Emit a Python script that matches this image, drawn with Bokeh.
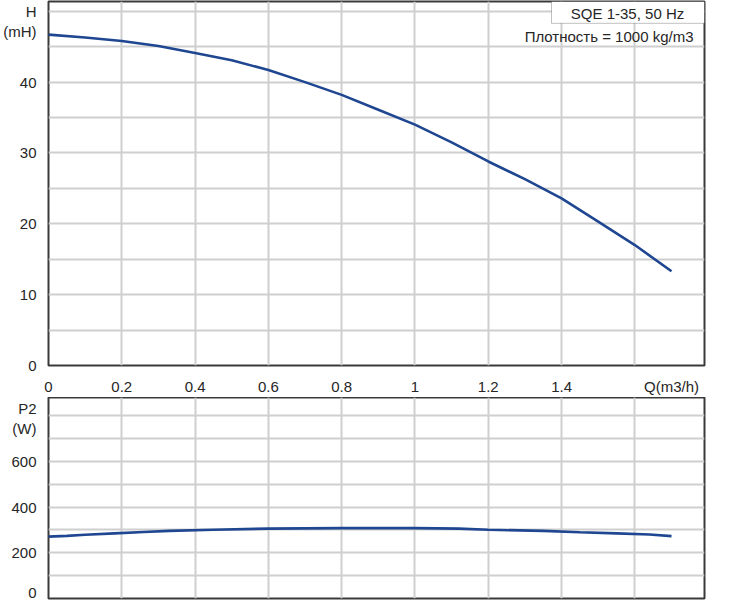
from bokeh.plotting import figure
from bokeh.layouts import column
from bokeh.models import FixedTicker, Label, BoxAnnotation, Range1d
from bokeh.embed import file_html
from bokeh.resources import INLINE

# ---- data ----
q_h = [0.0, 0.1, 0.2, 0.3, 0.4, 0.5, 0.6, 0.7, 0.8, 0.9, 1.0, 1.1, 1.2, 1.3, 1.4, 1.5, 1.6, 1.7]
head = [46.7, 46.3, 45.8, 45.1, 44.1, 43.1, 41.7, 40.0, 38.2, 36.1, 34.0, 31.5, 28.8, 26.3, 23.6, 20.3, 17.0, 13.3]

q_p = [0.0, 0.05, 0.1, 0.18, 0.26, 0.33, 0.45, 0.6, 0.8, 1.0, 1.12, 1.2, 1.35, 1.45, 1.55, 1.64, 1.70]
p2 = [271, 274, 279, 285, 291, 296, 301, 306, 308, 308, 306, 301, 296, 290, 285, 280, 273]

x_ticks = [0, 0.2, 0.4, 0.6, 0.8, 1.0, 1.2, 1.4, 1.70]
x_grid = [0.2, 0.4, 0.6, 0.8, 1.0, 1.2, 1.4, 1.6]
x_labels = {0: "0", 0.2: "0.2", 0.4: "0.4", 0.6: "0.6", 0.8: "0.8", 1.0: "1",
            1.2: "1.2", 1.4: "1.4", 1.70: "Q(m3/h)"}
h_ticks = [0, 10, 20, 30, 40, 47.2, 50]
h_labels = {47.2: "(mH)", 50: "H"}
h_grid = [0, 5, 10, 15, 20, 25, 30, 35, 40, 45, 50]
p_ticks = [23, 200, 400, 600, 743, 832]
p_labels = {23: "0", 743: "(W)", 832: "P2"}
p_grid = [100, 200, 300, 400, 500, 600, 700, 800]

title_text = "SQE 1-35, 50 Hz"
density_text = "Плотность = 1000 kg/m3"

FONT = "Liberation Sans"
FS = "15px"
TXT = "#262626"
CURVE = "#1f4690"
GRID = "#cfcfcf"
FRAME = "#3a3a3a"

X_MAX = 1.79


def style(p):
    p.outline_line_color = FRAME
    p.outline_line_width = 2
    p.background_fill_color = "white"
    p.border_fill_color = "white"
    for ax in (p.xaxis[0], p.yaxis[0]):
        ax.axis_line_color = None
        ax.major_tick_line_color = None
        ax.minor_tick_line_color = None
        ax.major_label_text_font = FONT
        ax.major_label_text_font_size = FS
        ax.major_label_text_color = TXT
    p.xgrid.grid_line_color = GRID
    p.ygrid.grid_line_color = GRID
    p.xgrid.grid_line_width = 2
    p.ygrid.grid_line_width = 2


# ---- top: head ----
p = figure(width=714, height=397, output_backend="svg", toolbar_location=None,
           x_range=Range1d(0, X_MAX), y_range=Range1d(0, 51.38),
           min_border_left=48, min_border_right=10, min_border_top=1, min_border_bottom=23)
style(p)
p.xaxis.ticker = FixedTicker(ticks=x_ticks)
p.xaxis.major_label_overrides = x_labels
p.xaxis.major_label_standoff = 6
p.xgrid.ticker = FixedTicker(ticks=x_grid)
p.yaxis.ticker = FixedTicker(ticks=h_ticks)
p.yaxis.major_label_overrides = h_labels
p.yaxis.major_label_standoff = 6
p.ygrid.ticker = FixedTicker(ticks=h_grid)

p.line(q_h, head, line_color=CURVE, line_width=2.6)

box = BoxAnnotation(left=1.3725, bottom=48.3, fill_color="white", fill_alpha=1.0,
                    line_color="#303030", line_width=1)
p.add_layout(box)
p.add_layout(Label(x=1.58, y=49.68, text=title_text, text_align="center", text_baseline="middle",
                   text_font=FONT, text_font_size=FS, text_color=TXT))
p.add_layout(Label(x=X_MAX, y=46.46, x_offset=-11, text=density_text, text_align="right",
                   text_baseline="middle", text_font=FONT, text_font_size=FS, text_color=TXT))

# ---- bottom: power ----
pb = figure(width=714, height=203, output_backend="svg", toolbar_location=None,
            x_range=p.x_range, y_range=Range1d(0, 880),
            min_border_left=48, min_border_right=10, min_border_top=0, min_border_bottom=2)
style(pb)
pb.xaxis.visible = False
pb.xgrid.ticker = FixedTicker(ticks=x_grid)
pb.yaxis.ticker = FixedTicker(ticks=p_ticks)
pb.yaxis.major_label_overrides = p_labels
pb.yaxis.major_label_standoff = 6
pb.ygrid.ticker = FixedTicker(ticks=p_grid)

pb.line(q_p, p2, line_color=CURVE, line_width=2.6)

layout = column(p, pb, spacing=0)
open("out.html", "w").write(file_html(layout, INLINE))
